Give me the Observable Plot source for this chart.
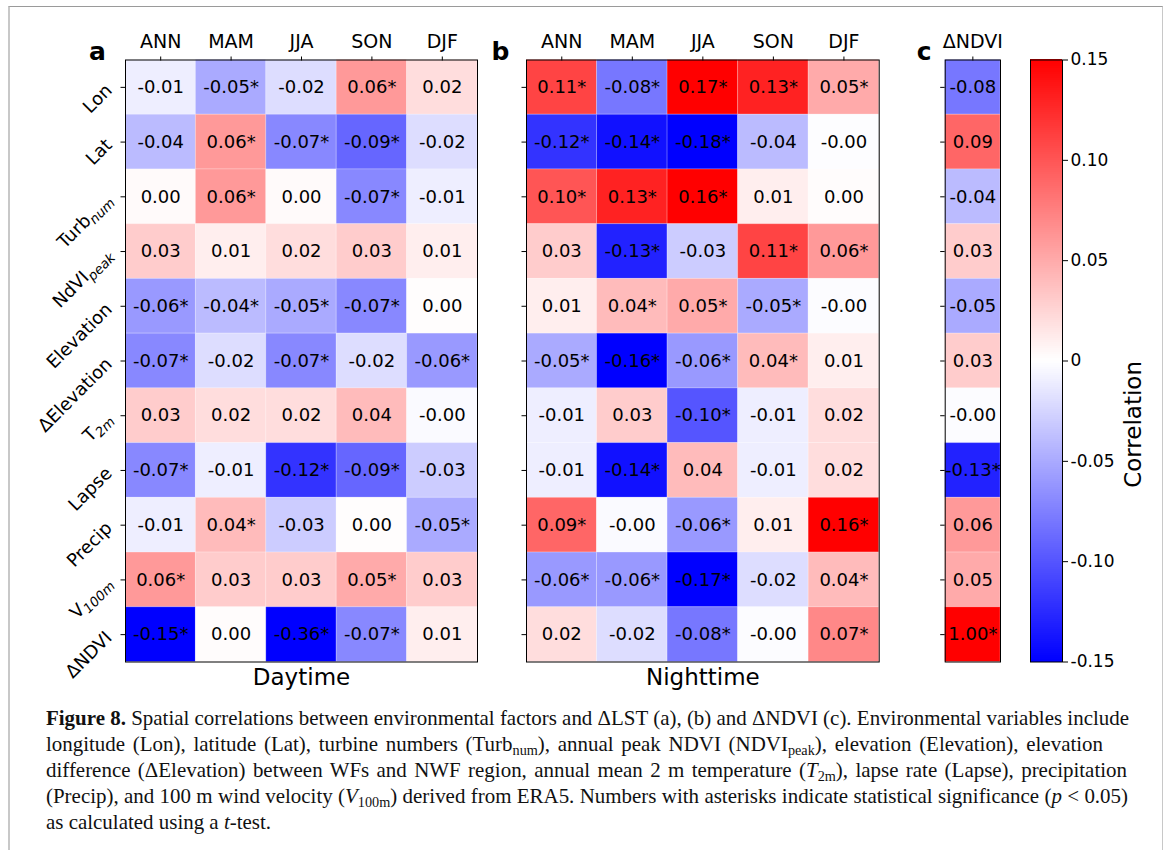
<!DOCTYPE html>
<html>
<head>
<meta charset="utf-8">
<script src="https://cdn.jsdelivr.net/npm/d3@7"></script>
<script src="https://cdn.jsdelivr.net/npm/@observablehq/plot@0.6"></script>
<style>
  html, body { margin: 0; padding: 0; background: #fff; }
  #fig { position: relative; width: 1168px; height: 850px; overflow: hidden; background: #fff; }
  .frameBox { position: absolute; left: 8px; top: 6px; width: 1155px; height: 900px;
    border-top: 1.5px solid #9a9a9a; border-left: 2px solid #c8c8c8; border-right: 1.5px solid #c8c8c8; box-sizing: border-box; }
  .panel { position: absolute; top: 0; }
  .panel svg { display: block; }
  #caption { position: absolute; left: 46px; top: 705px; font-family: "Liberation Serif", serif; color: #111; }
  #caption .ln { height: 26px; line-height: 26px; white-space: nowrap; }
  #caption .ln span.inner { display: inline-block; }
  #caption sub { font-size: 0.68em; line-height: 0; vertical-align: -0.25em; }
</style>
</head>
<body>
<div id="fig">
  <div class="frameBox"></div>
  <div class="panel" id="pa" style="left:0px"></div>
  <div class="panel" id="pb" style="left:480px"></div>
  <div class="panel" id="pc" style="left:880px"></div>
  <div class="panel" id="pcb" style="left:1005px"></div>
  <div id="caption">
    <div class="ln"><span class="inner"><b>Figure 8.</b> Spatial correlations between environmental factors and ΔLST (a), (b) and ΔNDVI (c). Environmental variables include</span></div>
    <div class="ln"><span class="inner">longitude (Lon), latitude (Lat), turbine numbers (Turb<sub>num</sub>), annual peak NDVI (NDVI<sub>peak</sub>), elevation (Elevation), elevation</span></div>
    <div class="ln"><span class="inner">difference (ΔElevation) between WFs and NWF region, annual mean 2 m temperature (<i>T</i><sub>2m</sub>), lapse rate (Lapse), precipitation</span></div>
    <div class="ln"><span class="inner">(Precip), and 100 m wind velocity (<i>V</i><sub>100m</sub>) derived from ERA5. Numbers with asterisks indicate statistical significance (<i>p</i> &lt; 0.05)</span></div>
    <div class="ln"><span class="inner">as calculated using a <i>t</i>-test.</span></div>
  </div>
</div>
<script>
// ---------------- data ----------------
const seasons = ["ANN", "MAM", "JJA", "SON", "DJF"];
const rowLabels = ["Lon", "Lat", "Turb_num", "NdVI_peak", "Elevation", "ΔElevation", "T_2m", "Lapse", "Precip", "V_100m", "ΔNDVI"];
const ndviColumn = ["ΔNDVI"];

// Daytime ΔLST correlations (rows x seasons)
const dayValues = [
  [-0.01, -0.05, -0.02,  0.06,  0.02],
  [-0.04,  0.06, -0.07, -0.09, -0.02],
  [ 0.003, 0.06,  0.003, -0.07, -0.01],
  [ 0.03,  0.01,  0.02,  0.03,  0.01],
  [-0.06, -0.04, -0.05, -0.07,  0.001],
  [-0.07, -0.02, -0.07, -0.02, -0.06],
  [ 0.03,  0.02,  0.02,  0.04, -0.003],
  [-0.07, -0.01, -0.12, -0.09, -0.03],
  [-0.01,  0.04, -0.03,  0.001, -0.05],
  [ 0.06,  0.03,  0.03,  0.05,  0.03],
  [-0.15,  0.002, -0.36, -0.07,  0.01]
];
const daySig = [
  [0,1,0,1,0],
  [0,1,1,1,0],
  [0,1,0,1,0],
  [0,0,0,0,0],
  [1,1,1,1,0],
  [1,0,1,0,1],
  [0,0,0,0,0],
  [1,0,1,1,0],
  [0,1,0,0,1],
  [1,0,0,1,0],
  [1,0,1,1,0]
];

// Nighttime ΔLST correlations
const nightValues = [
  [ 0.11, -0.08,  0.17,  0.13,  0.05],
  [-0.12, -0.14, -0.18, -0.04, -0.001],
  [ 0.10,  0.13,  0.16,  0.01,  0.002],
  [ 0.03, -0.13, -0.03,  0.11,  0.06],
  [ 0.01,  0.04,  0.05, -0.05, -0.002],
  [-0.05, -0.16, -0.06,  0.04,  0.01],
  [-0.01,  0.03, -0.10, -0.01,  0.02],
  [-0.01, -0.14,  0.04, -0.01,  0.02],
  [ 0.09, -0.003, -0.06, 0.01,  0.16],
  [-0.06, -0.06, -0.17, -0.02,  0.04],
  [ 0.02, -0.02, -0.08, -0.002, 0.07]
];
const nightSig = [
  [1,1,1,1,1],
  [1,1,1,0,0],
  [1,1,1,0,0],
  [0,1,0,1,1],
  [0,1,1,1,0],
  [1,1,1,1,0],
  [0,0,1,0,0],
  [0,1,0,0,0],
  [1,0,1,0,1],
  [1,1,1,0,1],
  [0,0,1,0,1]
];

// ΔNDVI correlations
const ndviValues = [-0.08, 0.09, -0.04, 0.03, -0.05, 0.03, -0.002, -0.13, 0.06, 0.05, 1.00];
const ndviSig    = [0, 0, 0, 0, 0, 0, 0, 1, 0, 0, 1];

const colorTicks = [-0.15, -0.10, -0.05, 0, 0.05, 0.10, 0.15];
const colorDomain = [-0.15, 0, 0.15];
const colorRange = ["#0000ff", "#ffffff", "#ff0000"];

// ---------------- layout ----------------
const H = 700, MT = 59.5, MB = 38.5;
const FONT = "DejaVu Sans";
const color = {type: "linear", domain: colorDomain, range: colorRange, interpolate: "rgb", clamp: true};
const fmt = d => d.value.toFixed(2) + (d.sig ? "*" : "");

function cellsFrom(values, sig, cols) {
  return rowLabels.flatMap((r, i) => cols.map((c, j) => ({
    row: r, col: c,
    value: Array.isArray(values[i]) ? values[i][j] : values[i],
    sig: Array.isArray(sig[i]) ? sig[i][j] : sig[i]
  })));
}

function heat(cells, cols, {width, marginLeft, marginRight, letter, letterDx, xlabel, showY}) {
  return Plot.plot({
    width, height: H, marginLeft, marginRight, marginTop: MT, marginBottom: MB,
    x: {domain: cols, padding: 0, round: false, axis: null},
    y: {domain: rowLabels, padding: 0, round: false, axis: null},
    color,
    style: {fontFamily: FONT, fontSize: "17px", color: "black", background: "transparent", overflow: "visible"},
    marks: [
      Plot.cell(cells, {x: "col", y: "row", fill: "value", stroke: "white", strokeOpacity: 0.22, strokeWidth: 1}),
      Plot.text(cells, {x: "col", y: "row", text: fmt, fontSize: 18, fill: "black"}),
      Plot.frame({stroke: "black", strokeWidth: 1}),
      Plot.axisX({anchor: "top", tickSize: 4, tickPadding: 8, fontSize: 19, label: null}),
      Plot.axisY({anchor: "left", tickSize: 4.5, tickPadding: 12, tickRotate: -45, fontSize: 18, label: null,
                  tickFormat: showY ? (d => d) : (() => "")}),
      Plot.text([letter], {text: d => d, frameAnchor: "top-left", textAnchor: "middle", dx: letterDx, dy: 0,
                           lineAnchor: "bottom", fontWeight: "bold", fontSize: 25}),
      xlabel ? Plot.text([xlabel], {text: d => d, frameAnchor: "bottom", dy: 16, lineAnchor: "middle", fontSize: 23}) : null
    ]
  });
}

function subscriptLabels(svg) {
  const ns = "http://www.w3.org/2000/svg";
  svg.querySelectorAll('g[aria-label="y-axis tick label"] text').forEach(t => {
    const s = t.textContent;
    if (!s.includes("_")) return;
    const [base, sub] = s.split("_");
    t.textContent = base;
    const ts = document.createElementNS(ns, "tspan");
    ts.setAttribute("font-size", "0.74em");
    ts.setAttribute("font-style", "italic");
    ts.setAttribute("dy", "0.3em");
    ts.textContent = sub;
    t.appendChild(ts);
  });
}

const pa = heat(cellsFrom(dayValues, daySig, seasons), seasons,
  {width: 480, marginLeft: 125, marginRight: 3, letter: "a", letterDx: -28, xlabel: "Daytime", showY: true});
subscriptLabels(pa);
document.getElementById("pa").append(pa);

const pb = heat(cellsFrom(nightValues, nightSig, seasons), seasons,
  {width: 400, marginLeft: 46, marginRight: 1.3, letter: "b", letterDx: -26, xlabel: "Nighttime", showY: false});
document.getElementById("pb").append(pb);

const pc = heat(cellsFrom(ndviValues, ndviSig, ndviColumn), ndviColumn,
  {width: 125, marginLeft: 64.7, marginRight: 5, letter: "c", letterDx: -21, xlabel: null, showY: false});
document.getElementById("pc").append(pc);

// colour bar
const step = 0.001;
const steps = d3.range(-0.15, 0.15 - step / 2, step);
const cb = Plot.plot({
  width: 163, height: H, marginLeft: 25, marginRight: 106, marginTop: MT, marginBottom: MB,
  x: {domain: [0, 1], axis: null},
  y: {domain: [-0.15, 0.15], axis: null},
  color,
  style: {fontFamily: FONT, fontSize: "17px", color: "black", background: "transparent", overflow: "visible"},
  marks: [
    Plot.rect(steps, {x1: 0, x2: 1, y1: d => d, y2: d => d + step * 1.2, fill: d => d + step / 2, shapeRendering: "crispEdges"}),
    Plot.frame({stroke: "black", strokeWidth: 1}),
    Plot.axisY(colorTicks, {anchor: "right", tickSize: 5, tickPadding: 3, fontSize: 17, label: null,
      tickFormat: d => d === 0 ? "0" : d.toFixed(2)}),
    Plot.text(["Correlation"], {text: d => d, frameAnchor: "right", dx: 71, rotate: -90, fontSize: 23})
  ]
});
document.getElementById("pcb").append(cb);

// fit caption: common font size from line 1, then per-line word spacing to the reference line ends
(function fitCaption() {
  const cap = document.getElementById("caption");
  const lines = Array.from(cap.querySelectorAll("span.inner"));
  const targets = [1083, 1057, 1081, 1082, null];
  cap.style.fontSize = "18px";
  const w = lines[0].getBoundingClientRect().width;
  cap.style.fontSize = (18 * targets[0] / w) + "px";
  lines.forEach((el, i) => {
    if (!targets[i]) return;
    const nat = el.getBoundingClientRect().width;
    const spaces = (el.textContent.match(/ /g) || []).length;
    if (spaces) el.style.wordSpacing = ((targets[i] - nat) / spaces) + "px";
  });
})();
</script>
</body>
</html>
